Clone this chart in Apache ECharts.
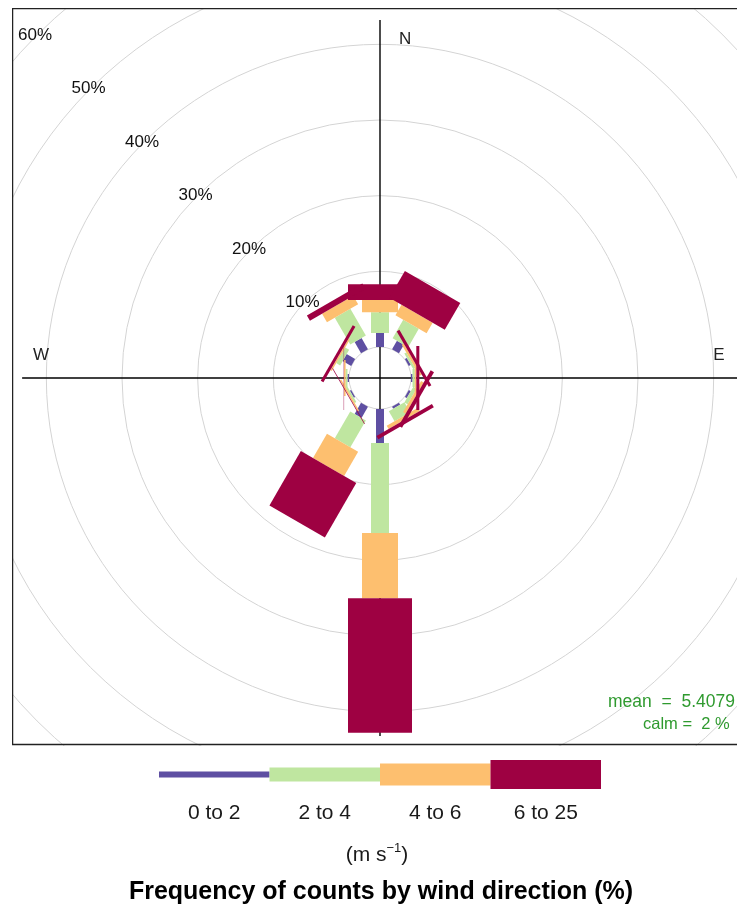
<!DOCTYPE html>
<html>
<head>
<meta charset="utf-8">
<title>Wind rose</title>
<script src="https://cdn.jsdelivr.net/npm/echarts@6/dist/echarts.min.js"></script>
<style>
    html, body { margin: 0; padding: 0; background: #fff; overflow: hidden; }
    #rose { position: absolute; left: 12px; top: 8px; width: 725px; height: 738px; }
    #key { position: absolute; left: 0; top: 746px; width: 737px; height: 163px; }
</style>
</head>
<body>
<div id="rose"></div>
<div id="key"></div>
<script>
// wind directions (degrees) and frequency (%) of each speed bin
var directions = [0, 30, 60, 90, 120, 150, 180, 210, 240, 270, 300, 330];
var speed0to2  = [1.85, 1.3, 0.3, 0.2, 0.3, 0.3, 4.5, 1.7, 0.2, 0.2, 1.3, 1.7];
var speed2to4  = [2.75, 2.8, 0.3, 0.3, 0.5, 1.5, 11.9, 4.1, 0.25, 0.25, 0.6, 4.1];
var speed4to6  = [1.6, 1.6, 0.3, 0.2, 0.4, 0.5, 8.6, 3.7, 0.2, 0.2, 0.2, 1.3];
var speed6to25 = [2.1, 4.1, 0.4, 0.4, 0.5, 0.5, 17.8, 8.3, 0.1, 0.05, 0.4, 0.8];

var binLabels = ['0 to 2', '2 to 4', '4 to 6', '6 to 25'];
var binColors = ['#5E4FA2', '#BFE6A0', '#FDBF6F', '#9E0142'];
var ringValues = [10, 20, 30, 40, 50, 60];
var compassNames = ['N', 'E', 'S', 'W'];
var compassAngles = [0, 90, 180, 270];
var meanSpeed = '5.4079';
var calmPercent = 2;

var FONT = "'Liberation Sans', Arial, sans-serif";
var paddleHalfWidth = [4, 9, 18, 32];
var keyThickness = [6, 14, 22, 29];

initRose();
initKey();

// paddle rectangles, constant pixel width per speed bin
function renderPaddle(params, api) {
    var dir = api.value(0);
    var bin = api.value(3);
    var p0 = api.coord([api.value(1), dir]);
    var p1 = api.coord([api.value(2), dir]);
    var t = dir * Math.PI / 180;
    var vx = Math.cos(t) * paddleHalfWidth[bin];
    var vy = Math.sin(t) * paddleHalfWidth[bin];
    return {
        type: 'polygon',
        shape: {
            points: [
                [p0[0] - vx, p0[1] - vy],
                [p0[0] + vx, p0[1] + vy],
                [p1[0] + vx, p1[1] + vy],
                [p1[0] - vx, p1[1] - vy]
            ]
        },
        style: { fill: binColors[bin] }
    };
}

function initRose() {
    var myChart = echarts.init(document.getElementById('rose'));
    var bins = [speed0to2, speed2to4, speed4to6, speed6to25];

    // cumulative start / end for each bin
    var starts = directions.map(function () { return 0; });
    var paddleData = [];
    for (var b = 0; b < bins.length; b++) {
        for (var d = 0; d < directions.length; d++) {
            var end = starts[d] + bins[b][d];
            paddleData.push([directions[d], starts[d], end, b]);
            starts[d] = end;
        }
    }

    var axisReach = 43.2;
    var labelReach = 40.7;

    var option = {
        animation: false,
        polar: { center: [368, 370], radius: [31, 485] },
        angleAxis: {
            type: 'value', min: 0, max: 360, startAngle: 90, clockwise: true,
            axisLine: { show: false }, axisTick: { show: false },
            axisLabel: { show: false }, splitLine: { show: false }
        },
        radiusAxis: {
            type: 'value', min: 0, max: 60, interval: 10,
            axisLine: { show: false }, axisTick: { show: false },
            axisLabel: { show: false },
            splitLine: { show: true, lineStyle: { color: '#d4d4d4', width: 1 } }
        },
        graphic: [
            {
                type: 'rect', z: 100,
                shape: { x: 0.5, y: 0.5, width: 760, height: 736 },
                style: { fill: 'none', stroke: '#222', lineWidth: 1.5 }
            },
            {
                type: 'text', z: 100, x: 596, y: 694,
                style: {
                    text: 'mean  =  ' + meanSpeed, font: '17.5px ' + FONT, fill: '#2f9a2f',
                    align: 'left', verticalAlign: 'middle', textAlign: 'left', textVerticalAlign: 'middle'
                }
            },
            {
                type: 'text', z: 100, x: 631, y: 716,
                style: {
                    text: 'calm =  ' + calmPercent + ' %', font: '16.5px ' + FONT, fill: '#2f9a2f',
                    align: 'left', verticalAlign: 'middle', textAlign: 'left', textVerticalAlign: 'middle'
                }
            }
        ],
        series: [
            {
                // compass letters (S sits under the south paddle)
                type: 'custom', coordinateSystem: 'polar', z: 1,
                data: compassAngles.map(function (a) { return [labelReach, a]; }),
                renderItem: function (params, api) {
                    var a = api.value(1);
                    var p = api.coord([labelReach, a]);
                    var side = (a === 0 || a === 180);
                    return {
                        type: 'text',
                        x: side ? p[0] + 19 : p[0],
                        y: side ? p[1] : p[1] - 23,
                        style: {
                            text: compassNames[params.dataIndex], font: '17px ' + FONT, fill: '#222',
                            align: side ? 'left' : 'center', verticalAlign: 'middle',
                            textAlign: side ? 'left' : 'center', textVerticalAlign: 'middle'
                        }
                    };
                }
            },
            {
                // N-S and W-E lines
                type: 'custom', coordinateSystem: 'polar', z: 2,
                data: [[axisReach, 0, 180], [axisReach, 90, 270]],
                renderItem: function (params, api) {
                    var p1 = api.coord([api.value(0), api.value(1)]);
                    var p2 = api.coord([api.value(0), api.value(2)]);
                    return {
                        type: 'line',
                        shape: { x1: p1[0], y1: p1[1], x2: p2[0], y2: p2[1] },
                        style: { stroke: '#000', lineWidth: 1.4 }
                    };
                }
            },
            {
                type: 'custom', coordinateSystem: 'polar', z: 3,
                encode: { radius: 2, angle: 0 },
                data: paddleData,
                renderItem: renderPaddle
            },
            {
                // percentage labels on the rings
                type: 'custom', coordinateSystem: 'polar', z: 4,
                data: ringValues.map(function (v) { return [v, 315]; }),
                renderItem: function (params, api) {
                    var p = api.coord([api.value(0), 315]);
                    return {
                        type: 'text', x: p[0] - 2, y: p[1],
                        style: {
                            text: api.value(0) + '%', font: '17px ' + FONT, fill: '#111',
                            align: 'center', verticalAlign: 'middle',
                            textAlign: 'center', textVerticalAlign: 'middle'
                        }
                    };
                }
            }
        ]
    };
    myChart.setOption(option);
}

// speed key and title
function initKey() {
    var myChart = echarts.init(document.getElementById('key'));
    var left = 159;
    var segW = 110.5;
    var midY = 28.5;
    var elements = [];
    for (var i = 0; i < binLabels.length; i++) {
        elements.push({
            type: 'rect',
            shape: { x: left + i * segW, y: midY - keyThickness[i] / 2, width: segW, height: keyThickness[i] },
            style: { fill: binColors[i] }
        });
        elements.push({
            type: 'text', x: left + (i + 0.5) * segW, y: 67,
            style: {
                text: binLabels[i], font: '21px ' + FONT, fill: '#1a1a1a',
                align: 'center', verticalAlign: 'middle', textAlign: 'center', textVerticalAlign: 'middle'
            }
        });
    }
    elements.push({
        type: 'text', x: 377, y: 109,
        style: {
            text: '(m s{sup|\u22121})', font: '21px ' + FONT, fill: '#1a1a1a', lineHeight: 26,
            align: 'center', verticalAlign: 'middle', textAlign: 'center', textVerticalAlign: 'middle',
            rich: { sup: { fontSize: 13, fontFamily: FONT, lineHeight: 14, verticalAlign: 'top', fill: '#1a1a1a' } }
        }
    });
    elements.push({
        type: 'text', x: 381, y: 146,
        style: {
            text: 'Frequency of counts by wind direction (%)', font: 'bold 25px ' + FONT, fill: '#000',
            align: 'center', verticalAlign: 'middle', textAlign: 'center', textVerticalAlign: 'middle'
        }
    });
    myChart.setOption({ animation: false, graphic: elements });
}
</script>
</body>
</html>
